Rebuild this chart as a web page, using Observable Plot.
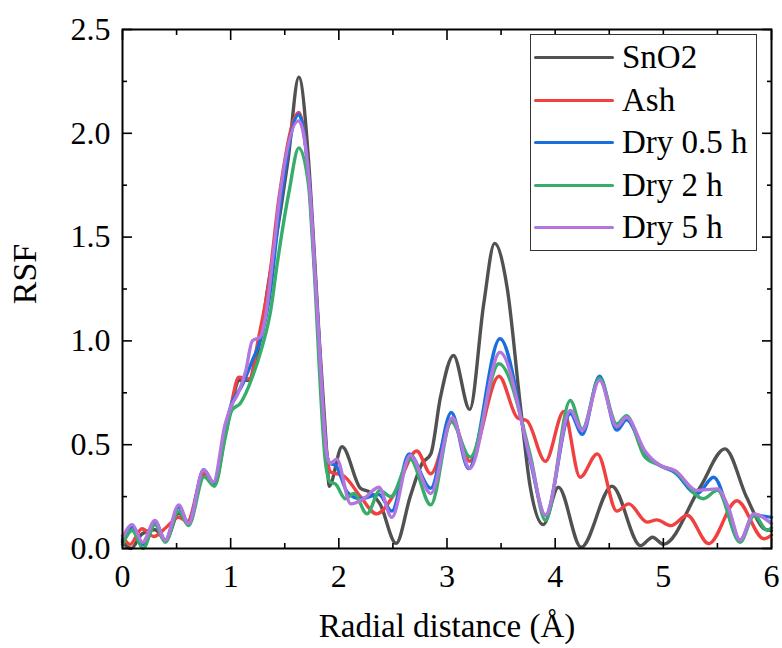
<!DOCTYPE html>
<html><head><meta charset="utf-8">
<script src="https://cdn.jsdelivr.net/npm/d3@7"></script>
<script src="https://cdn.jsdelivr.net/npm/@observablehq/plot@0.6"></script>
<style>
html,body{margin:0;padding:0;background:#fff;}
#wrap{position:relative;width:782px;height:648px;}
#legend{position:absolute;left:530px;top:34px;width:227px;height:217px;border:1px solid #333;background:#fff;box-sizing:border-box;}
.row{position:absolute;left:0;height:42px;display:flex;align-items:center;}
.sw{width:80px;height:3px;margin-left:3px;margin-right:8px;border-radius:1.5px;}
.lab{font-size:33px;line-height:1;color:#000;white-space:nowrap;}
</style></head><body><div id="wrap"><div id="legend"></div></div>
<script>
const seriesNames = ["SnO2", "Ash", "Dry 0.5 h", "Dry 2 h", "Dry 5 h"];
const seriesColors = ["#515151", "#F14040", "#1A6FDF", "#37AD6B", "#B177DE"];

const sno2X = [0, 0.08, 0.18, 0.30, 0.40, 0.52, 0.61, 0.75, 0.85, 0.95, 1.0, 1.08, 1.17, 1.27, 1.35, 1.40, 1.53, 1.63, 1.72, 1.77, 1.82, 1.89, 1.91, 2.03, 2.2, 2.29, 2.38, 2.53, 2.66, 2.77, 2.85, 2.94, 3.06, 3.21, 3.34, 3.44, 3.555, 3.68, 3.77, 3.89, 4.03, 4.24, 4.525, 4.79, 4.9, 5.0, 5.34, 5.57, 5.77, 5.93, 6.0];
const sno2Y = [0.03, 0.0, 0.07, 0.09, 0.04, 0.17, 0.12, 0.35, 0.31, 0.55, 0.67, 0.81, 0.81, 1.0, 1.28, 1.43, 1.87, 2.27, 1.87, 1.45, 1.0, 0.45, 0.30, 0.49, 0.29, 0.27, 0.215, 0.025, 0.25, 0.41, 0.455, 0.73, 0.93, 0.67, 1.18, 1.47, 1.26, 0.68, 0.295, 0.115, 0.295, 0.006, 0.30, 0.014, 0.054, 0.02, 0.295, 0.48, 0.247, 0.095, 0.085];

const ashX = [0, 0.07, 0.18, 0.29, 0.40, 0.52, 0.60, 0.75, 0.85, 0.95, 1.0, 1.075, 1.17, 1.26, 1.35, 1.45, 1.63, 1.72, 1.80, 1.89, 1.92, 2.045, 2.2, 2.35, 2.51, 2.72, 2.85, 3.05, 3.21, 3.48, 3.65, 3.74, 3.91, 4.08, 4.23, 4.39, 4.57, 4.68, 4.85, 4.94, 5.07, 5.22, 5.42, 5.68, 5.93, 6.0];
const ashY = [0.06, 0.02, 0.095, 0.058, 0.10, 0.15, 0.13, 0.36, 0.31, 0.57, 0.68, 0.825, 0.817, 1.02, 1.27, 1.70, 2.10, 1.80, 1.15, 0.45, 0.37, 0.35, 0.25, 0.167, 0.26, 0.47, 0.36, 0.615, 0.42, 0.83, 0.63, 0.615, 0.42, 0.66, 0.343, 0.456, 0.18, 0.215, 0.127, 0.138, 0.11, 0.16, 0.023, 0.23, 0.047, 0.065];

const dry05X = [0, 0.09, 0.19, 0.30, 0.395, 0.52, 0.61, 0.75, 0.85, 0.95, 1.01, 1.1, 1.2, 1.29, 1.37, 1.45, 1.63, 1.72, 1.80, 1.89, 1.92, 1.97, 2.08, 2.2, 2.37, 2.49, 2.65, 2.85, 3.04, 3.2, 3.49, 3.77, 3.91, 4.14, 4.25, 4.41, 4.57, 4.66, 4.83, 4.97, 5.11, 5.31, 5.465, 5.71, 5.835, 6.0];
const dry05Y = [0.04, 0.105, 0.02, 0.13, 0.04, 0.20, 0.12, 0.38, 0.31, 0.58, 0.70, 0.78, 0.905, 1.03, 1.25, 1.62, 2.09, 1.80, 1.15, 0.45, 0.41, 0.40, 0.27, 0.24, 0.26, 0.18, 0.455, 0.29, 0.655, 0.385, 1.01, 0.42, 0.16, 0.65, 0.55, 0.83, 0.57, 0.62, 0.46, 0.40, 0.365, 0.263, 0.343, 0.04, 0.16, 0.15];

const dry2X = [0, 0.09, 0.19, 0.30, 0.395, 0.52, 0.61, 0.755, 0.85, 0.95, 1.01, 1.09, 1.2, 1.29, 1.37, 1.43, 1.54, 1.63, 1.72, 1.76, 1.88, 1.92, 1.97, 2.06, 2.14, 2.26, 2.38, 2.48, 2.66, 2.85, 3.04, 3.215, 3.48, 3.77, 3.91, 4.14, 4.25, 4.41, 4.57, 4.66, 4.83, 4.97, 5.11, 5.37, 5.5, 5.71, 5.84, 5.96, 6.0];
const dry2Y = [0.02, 0.087, 0.0, 0.115, 0.03, 0.18, 0.11, 0.345, 0.30, 0.535, 0.665, 0.70, 0.825, 0.97, 1.146, 1.37, 1.72, 1.93, 1.75, 1.45, 0.40, 0.32, 0.31, 0.24, 0.265, 0.167, 0.28, 0.25, 0.43, 0.21, 0.61, 0.44, 0.89, 0.45, 0.135, 0.713, 0.575, 0.82, 0.60, 0.64, 0.44, 0.40, 0.37, 0.24, 0.28, 0.03, 0.16, 0.087, 0.10];

const dry5X = [0, 0.09, 0.185, 0.30, 0.395, 0.52, 0.61, 0.75, 0.84, 0.95, 1.0, 1.07, 1.14, 1.2, 1.275, 1.32, 1.40, 1.46, 1.63, 1.72, 1.80, 1.89, 1.92, 1.98, 2.11, 2.23, 2.37, 2.49, 2.66, 2.85, 3.05, 3.21, 3.49, 3.77, 3.91, 4.14, 4.25, 4.41, 4.57, 4.66, 4.83, 4.97, 5.11, 5.31, 5.50, 5.60, 5.71, 5.835, 6.0];
const dry5Y = [0.05, 0.115, 0.03, 0.135, 0.04, 0.21, 0.12, 0.38, 0.32, 0.60, 0.68, 0.75, 0.857, 1.0, 1.02, 1.11, 1.45, 1.72, 2.06, 1.80, 1.15, 0.45, 0.41, 0.43, 0.215, 0.24, 0.295, 0.15, 0.45, 0.265, 0.63, 0.385, 0.945, 0.43, 0.16, 0.665, 0.57, 0.81, 0.587, 0.632, 0.47, 0.40, 0.375, 0.28, 0.287, 0.20, 0.04, 0.167, 0.12];

const xMajorTicks = [0, 1, 2, 3, 4, 5, 6];
const xMinorTicks = [0.5, 1.5, 2.5, 3.5, 4.5, 5.5];
const yMajorTicks = [0, 0.5, 1.0, 1.5, 2.0, 2.5];
const yMinorTicks = [0.25, 0.75, 1.25, 1.75, 2.25];
const xTitle = "Radial distance (Å)";
const yTitle = "RSF";

const seriesX = [sno2X, ashX, dry05X, dry2X, dry5X];
const seriesY = [sno2Y, ashY, dry05Y, dry2Y, dry5Y];
const rowsFor = i => seriesX[i].map((x, j) => ({x, y: seriesY[i][j], series: seriesNames[i]}));

const lineMarks = seriesNames.map((name, i) =>
  Plot.line(rowsFor(i), {x: "x", y: "y", stroke: seriesColors[i], strokeWidth: 3.4, curve: "monotone-x"})
);

const tickStyle = {fill: "none", label: null, strokeWidth: 1.6, stroke: "#000"};
const serifFont = "Liberation Serif";

const chart = Plot.plot({
  width: 782, height: 648,
  marginLeft: 122, marginRight: 11, marginTop: 29, marginBottom: 100,
  x: {domain: [0, 6]},
  y: {domain: [0, 2.5]},
  style: {fontSize: "32px", color: "#000", background: "#fff", overflow: "visible"},
  marks: [
    ...lineMarks,
    Plot.frame({stroke: "#000", strokeWidth: 2}),
    Plot.axisX({anchor: "bottom", ticks: xMajorTicks, tickSize: -10, ...tickStyle}),
    Plot.axisX({anchor: "bottom", ticks: xMinorTicks, tickSize: -5, ...tickStyle}),
    Plot.axisX({anchor: "top", ticks: xMajorTicks, tickSize: -10, ...tickStyle}),
    Plot.axisX({anchor: "top", ticks: xMinorTicks, tickSize: -5, ...tickStyle}),
    Plot.axisY({anchor: "left", ticks: yMajorTicks, tickSize: -10, ...tickStyle}),
    Plot.axisY({anchor: "left", ticks: yMinorTicks, tickSize: -5, ...tickStyle}),
    Plot.axisY({anchor: "right", ticks: yMajorTicks, tickSize: -10, ...tickStyle}),
    Plot.axisY({anchor: "right", ticks: yMinorTicks, tickSize: -5, ...tickStyle}),
    Plot.axisX({anchor: "bottom", ticks: xMajorTicks, tickSize: 0, tickPadding: 16, tickFormat: d3.format("d"), label: null, fontSize: 32}),
    Plot.axisY({anchor: "left", ticks: yMajorTicks, tickSize: 0, tickPadding: 12, tickFormat: d3.format(".1f"), label: null, fontSize: 32}),
    Plot.text([xTitle], {text: d => d, frameAnchor: "bottom", dy: 78, fontSize: 33, lineAnchor: "middle", textAnchor: "middle"}),
    Plot.text([yTitle], {text: d => d, frameAnchor: "left", dx: -97, dy: -15, rotate: -90, fontSize: 34, lineAnchor: "middle", textAnchor: "middle"})
  ]
});
chart.querySelectorAll("text, g").forEach(el => el.setAttribute("font-family", serifFont));
chart.querySelectorAll("text").forEach(el => el.style.fontFamily = serifFont);
const wrap = document.getElementById("wrap");
wrap.insertBefore(chart, wrap.firstChild);

const legend = document.getElementById("legend");
seriesNames.forEach((name, i) => {
  const row = document.createElement("div");
  row.className = "row";
  row.style.top = (23.7 + i * 42.5 - 21 - 1) + "px";
  const sw = document.createElement("div");
  sw.className = "sw";
  sw.style.background = seriesColors[i];
  const lab = document.createElement("span");
  lab.className = "lab";
  lab.style.fontFamily = serifFont;
  lab.textContent = name;
  row.appendChild(sw); row.appendChild(lab);
  legend.appendChild(row);
});
</script>
</body></html>
